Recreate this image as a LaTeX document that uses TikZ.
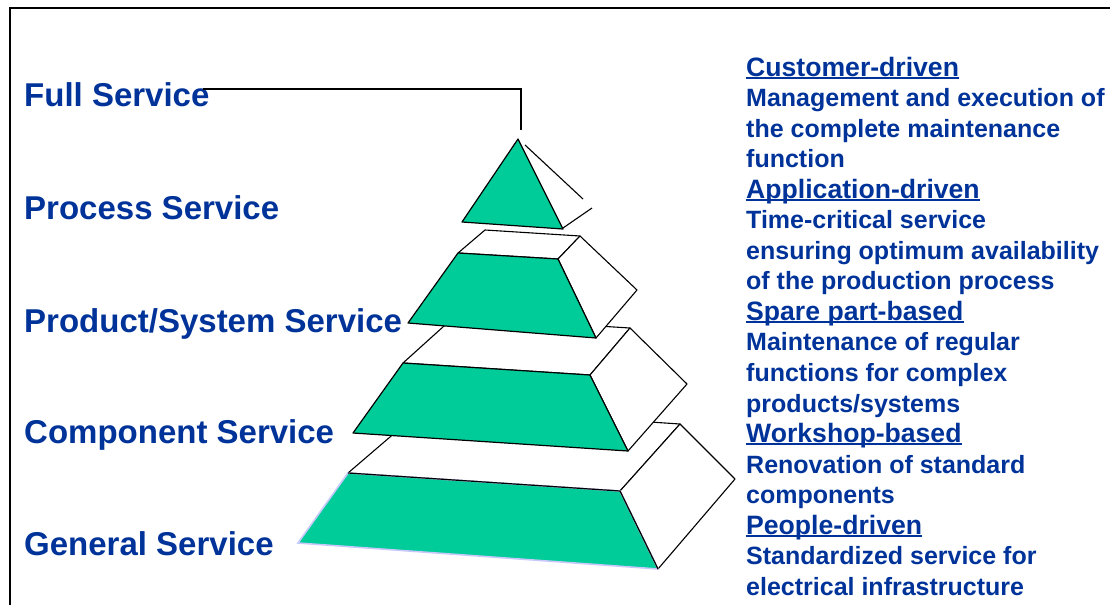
\documentclass[tikz,border=0pt]{standalone}
\usepackage{fontspec}
\setmainfont{Liberation Sans}
\definecolor{txtblue}{RGB}{0,51,153}
\definecolor{pgreen}{RGB}{0,204,153}
\definecolor{lav}{RGB}{200,200,250}
\newsavebox\myulbox
\newcommand{\myul}[1]{\sbox\myulbox{#1}\rlap{\rule[-2.6pt]{\wd\myulbox}{1.8pt}}\usebox\myulbox}
\tikzset{
  lvl/.style={font=\fontsize{33}{38}\selectfont\bfseries, text=txtblue, anchor=base west, inner sep=0pt},
  desc/.style={font=\fontsize{25}{30}\selectfont\bfseries, text=txtblue, anchor=base west, inner sep=0pt},
  head/.style={desc, font=\fontsize{26.6}{30}\selectfont\bfseries},
  gface/.style={fill=pgreen, draw=black, line width=1.2pt, line join=round},
  wface/.style={fill=white, draw=black, line width=1.1pt, line join=round},
  frame/.style={line width=2.4pt},
  conn/.style={line width=2.4pt}
}
\begin{document}
\begin{tikzpicture}[x=1pt,y=-1pt]
\useasboundingbox (0,0) rectangle (1110,605);
% frame
\draw[frame] (10,605) -- (10,8) -- (1112,8);

% layer 4 (General)
\draw[wface] (348,473) -- (425,407) -- (680,424) -- (620,491) -- cycle;
\draw[wface] (620,491) -- (680,424) -- (735,479) -- (658,569) -- cycle;
\fill[pgreen, draw=lav, line width=1.6pt] (348,473) -- (620,491) -- (658,569) -- (298,543) -- cycle;
\draw[line width=1.2pt] (348,473) -- (620,491) -- (658,569);
% layer 3 (Component)
\draw[wface] (403,363) -- (454,317) -- (630,328) -- (590,375) -- cycle;
\draw[wface] (590,375) -- (630,328) -- (687,384) -- (628,451) -- cycle;
\draw[gface] (403,363) -- (590,375) -- (628,451) -- (353,433) -- cycle;
% layer 2 (Product/System)
\draw[wface] (458,253) -- (485,230) -- (580,236) -- (558,259) -- cycle;
\draw[wface] (558,259) -- (580,236) -- (637,290) -- (596,338) -- cycle;
\draw[gface] (458,253) -- (558,259) -- (596,338) -- (408,323) -- cycle;
% top triangle
\draw[gface] (518,139) -- (563,229) -- (462,222) -- cycle;
\draw[line width=1.1pt] (525,145) -- (583,199);
\draw[line width=1.1pt] (563,228) -- (592,208);

% left labels
\node[lvl] (fs) at (24,106) {Full Service};
\node[lvl] (ps) at (24,219) {Process Service};
\node[lvl] (pss) at (24,332) {Product/System Service};
\node[lvl] (cs) at (24,443) {Component Service};
\node[lvl] (gs) at (24,555) {General Service};

% connector
\coordinate (c1) at (203,89);
\coordinate (c2) at (521,130);
\draw[conn] (c1) -| (c2);

% right descriptions
\node[head] (d1)  at (746,76.0)  {\myul{Customer-driven}};
\node[desc] (d2)  at (746,106.5) {Management and execution of};
\node[desc] (d3)  at (746,137.1) {the complete maintenance};
\node[desc] (d4)  at (746,167.6) {function};
\node[head] (d5)  at (746,198.2) {\myul{Application-driven}};
\node[desc] (d6)  at (746,228.7) {Time-critical service};
\node[desc] (d7)  at (746,259.3) {ensuring optimum availability};
\node[desc] (d8)  at (746,289.8) {of the production process};
\node[head] (d9)  at (746,320.4) {\myul{Spare part-based}};
\node[desc] (d10) at (746,350.9) {Maintenance of regular};
\node[desc] (d11) at (746,381.5) {functions for complex};
\node[desc] (d12) at (746,412.0) {products/systems};
\node[head] (d13) at (746,442.6) {\myul{Workshop-based}};
\node[desc] (d14) at (746,473.1) {Renovation of standard};
\node[desc] (d15) at (746,503.7) {components};
\node[head] (d16) at (746,534.2) {\myul{People-driven}};
\node[desc] (d17) at (746,564.8) {Standardized service for};
\node[desc] (d18) at (746,595.3) {electrical infrastructure};
\end{tikzpicture}
\end{document}
